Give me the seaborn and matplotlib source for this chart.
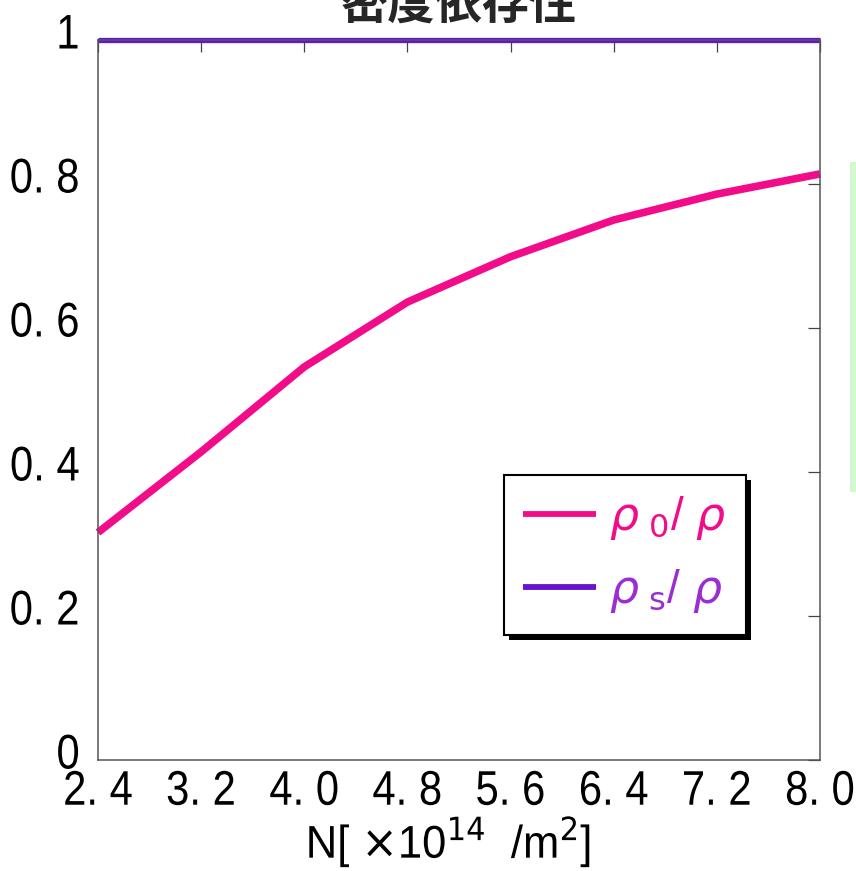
import matplotlib
matplotlib.use("Agg")
import matplotlib.pyplot as plt
from matplotlib.patches import Rectangle
from matplotlib.transforms import Affine2D
from matplotlib import patheffects
import pandas as pd
import seaborn as sns

# density N [x10^14 /m^2]
density = [2.4, 3.2, 4.0, 4.8, 5.6, 6.4, 7.2, 8.0]
# normal-fluid fraction rho_0 / rho
rho0_ratio = [0.316, 0.428, 0.546, 0.636, 0.699, 0.750, 0.786, 0.814]
# superfluid fraction rho_s / rho
rhos_ratio = [1.0, 1.0, 1.0, 1.0, 1.0, 1.0, 1.0, 1.0]

x_ticks = [2.4, 3.2, 4.0, 4.8, 5.6, 6.4, 7.2, 8.0]
x_tick_labels = ["2. 4", "3. 2", "4. 0", "4. 8", "5. 6", "6. 4", "7. 2", "8. 0"]
y_ticks = [0, 0.2, 0.4, 0.6, 0.8, 1.0]
y_tick_labels = ["0", "0. 2", "0. 4", "0. 6", "0. 8", "1"]

title_text = "密度依存性"
x_label = r"N[ $\times$10$^{14}$  /m$^{2}$]"
label_0 = r"$\rho_{\ 0}$/ $\rho$"
label_s = r"$\rho_{\ \mathrm{s}}$/ $\rho$"

pink = "#f20c8a"
purple_line = "#6515d0"
purple_text = "#9a2ed2"


class SqueezeX(patheffects.AbstractPathEffect):
    """Draw text narrower, keeping a chosen point of its width fixed,
    optionally nudged vertically by dy pixels."""

    def __init__(self, sx, anchor=0.5, dy=0.0):
        super().__init__()
        self.sx = sx
        self.anchor = anchor
        self.dy = dy

    def draw_path(self, renderer, gc, tpath, affine, rgbFace=None):
        ext = tpath.get_extents()
        x0 = ext.x0 + self.anchor * ext.width
        squeeze = Affine2D().translate(-x0, 0).scale(self.sx, 1).translate(x0, 0)
        renderer.draw_path(gc, tpath,
                           squeeze + affine + Affine2D().translate(0, self.dy),
                           rgbFace)


sns.set_theme(style="white")
plt.rcParams["font.family"] = ["Liberation Sans", "DejaVu Sans"]
plt.rcParams["mathtext.fontset"] = "dejavusans"

df = pd.DataFrame({
    "N": density * 2,
    "ratio": rho0_ratio + rhos_ratio,
    "series": [label_0] * len(density) + [label_s] * len(density),
})

fig = plt.figure(figsize=(8.56, 8.71), dpi=100)
ax = fig.add_axes([98 / 856, 111 / 871, 722 / 856, 720 / 871])

sns.lineplot(data=df, x="N", y="ratio", hue="series",
             palette={label_0: pink, label_s: purple_line},
             linewidth=5.5, ax=ax, legend=False)
for ln in ax.lines:
    ln.set_clip_on(False)
    ln.set_solid_capstyle("butt")
ax.lines[1].set_linewidth(3.8)

ax.set_xlim(2.4, 8.0)
ax.set_ylim(0, 1.0)
ax.set_xticks(x_ticks)
ax.set_xticklabels(x_tick_labels)
ax.set_yticks(y_ticks)
ax.set_yticklabels(y_tick_labels)
ax.tick_params(axis="both", which="both", direction="in", length=8.6,
               width=0.9, color="#444444", labelsize=35, top=True, right=True,
               labelcolor="black")
ax.tick_params(axis="x", pad=7)
ax.tick_params(axis="y", pad=13)
for sp in ax.spines.values():
    sp.set_color("#555555")
    sp.set_linewidth(1.1)

xl = ax.set_xlabel(x_label, fontsize=33, color="black")
ax.xaxis.set_label_coords((448.5 - 98) / 722, -0.075)
ax.set_ylabel("")

for t in ax.xaxis.get_major_ticks():
    t.label1.set_path_effects([SqueezeX(0.86, 0.5)])
for t in ax.yaxis.get_major_ticks():
    t.label1.set_path_effects([SqueezeX(0.86, 1.0, dy=9)])
xl.set_path_effects([SqueezeX(0.95, 0.5)])

fig.text(0.536, 0.995, title_text, ha="center", va="center", fontsize=34,
         fontweight="bold", family=["Noto Sans CJK JP", "DejaVu Sans"])

handles = [plt.Line2D([], [], color=pink, linewidth=4.2, solid_capstyle="butt"),
           plt.Line2D([], [], color=purple_line, linewidth=4.2,
                      solid_capstyle="butt")]
leg = ax.legend(handles, [label_0, label_s], loc="lower left",
                bbox_to_anchor=(0.562, 0.174), fontsize=33, frameon=True,
                fancybox=False, shadow=False, edgecolor="black",
                framealpha=1.0, facecolor="white",
                handlelength=1.6, handletextpad=0.28, borderpad=0.42,
                labelspacing=0.56, borderaxespad=0)
frame = leg.get_frame()
frame.set_linewidth(1.5)
frame.set_path_effects([
    patheffects.SimplePatchShadow(offset=(4, -4), shadow_rgbFace="black",
                                  alpha=1.0),
    patheffects.Normal(),
])
for txt, col in zip(leg.get_texts(), [pink, purple_text]):
    txt.set_color(col)

fig.patches.append(Rectangle((850 / 856, 379 / 871), 6 / 856, 330 / 871,
                             transform=fig.transFigure, facecolor="#d3f8cf",
                             edgecolor="none"))

fig.savefig("out.png", dpi=100)
